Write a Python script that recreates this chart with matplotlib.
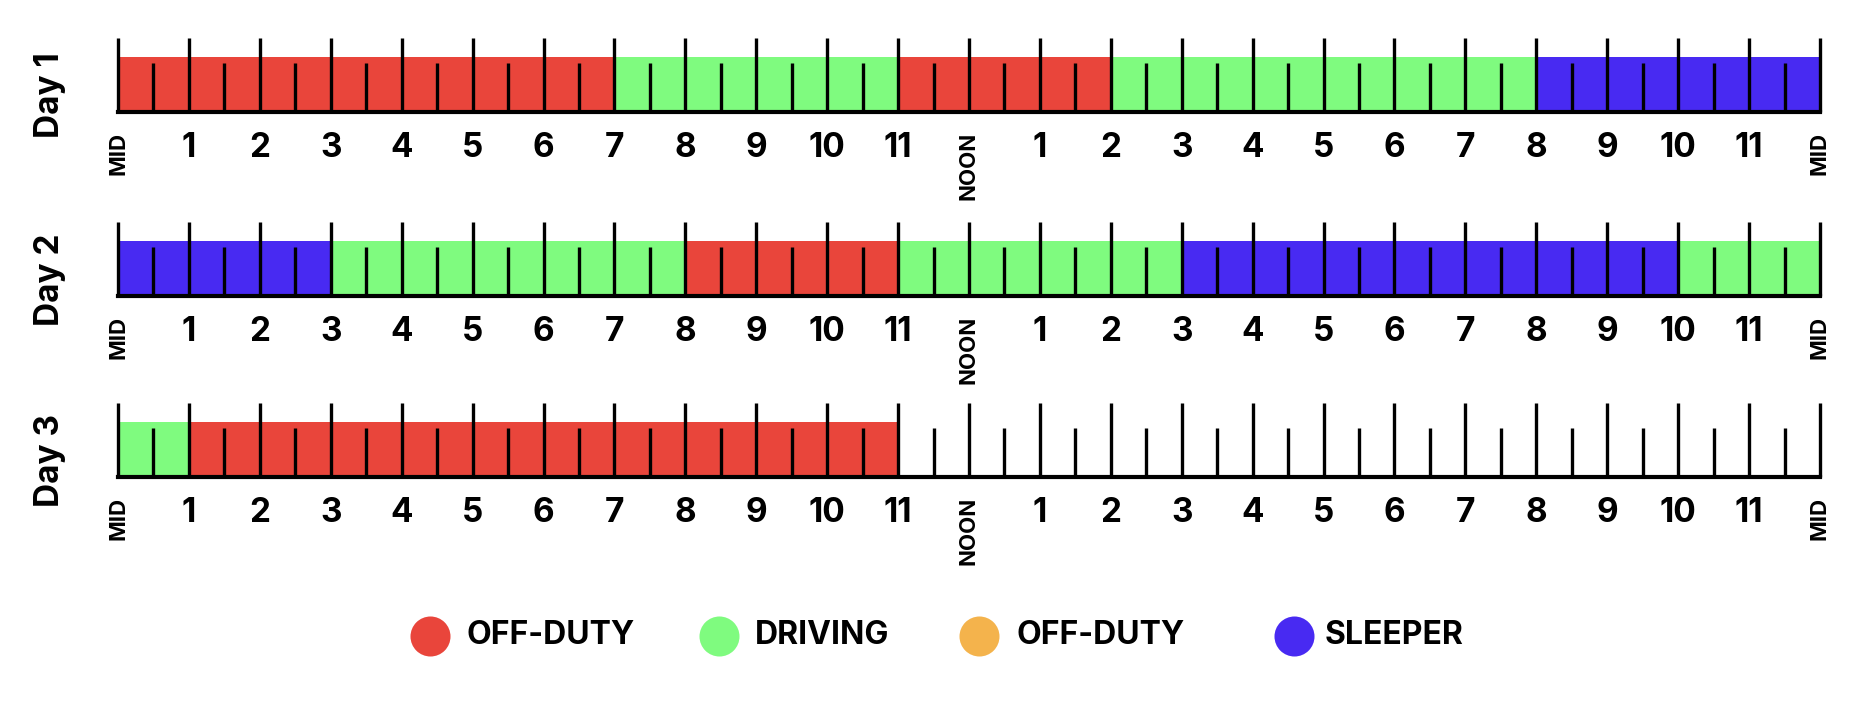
import matplotlib.pyplot as plt

# status segments per day: (start hour, end hour, status)
day1 = [(0, 7, "OFF"), (7, 11, "DRIVING"), (11, 14, "OFF"), (14, 20, "DRIVING"), (20, 24, "SLEEPER")]
day2 = [(0, 3, "SLEEPER"), (3, 8, "DRIVING"), (8, 11, "OFF"), (11, 15, "DRIVING"),
        (15, 22, "SLEEPER"), (22, 24, "DRIVING")]
day3 = [(0, 1, "DRIVING"), (1, 11, "OFF")]
days = [day1, day2, day3]
day_names = ["Day 1", "Day 2", "Day 3"]

hour_labels = ["MID", "1", "2", "3", "4", "5", "6", "7", "8", "9", "10", "11", "NOON",
               "1", "2", "3", "4", "5", "6", "7", "8", "9", "10", "11", "MID"]

status_colors = {"OFF": "#E9453B", "DRIVING": "#7FFB7F", "OFF2": "#F4B34C", "SLEEPER": "#482AF2"}
legend_labels = ["OFF-DUTY", "DRIVING", "OFF-DUTY", "SLEEPER"]
legend_keys = ["OFF", "DRIVING", "OFF2", "SLEEPER"]

FONT = ["Inter", "DejaVu Sans"]
plt.rcParams["font.family"] = FONT

W, H = 1872, 710
fig = plt.figure(figsize=(W / 100, H / 100), dpi=100)

# pixel layout
x0, x1 = 118, 1820
baselines = [112, 296, 477]
unit = 55  # px per bar height
ylo, yhi = -1.9, 1.45

for d, (segs, name, base) in enumerate(zip(days, day_names, baselines)):
    top_px = base - yhi * unit
    bot_px = base - ylo * unit
    ax = fig.add_axes([x0 / W, 1 - bot_px / H, (x1 - x0) / W, (bot_px - top_px) / H])
    ax.set_xlim(0, 24)
    ax.set_ylim(ylo, yhi)
    ax.axis("off")

    for start, end, st in segs:
        ax.bar(start, 1.0, width=end - start, bottom=0, align="edge",
               color=status_colors[st], linewidth=0)

    # hour and half-hour marks
    ax.vlines(range(25), 0, 1.35, color="black", lw=2.4, capstyle="butt", clip_on=False)
    ax.vlines([h + 0.5 for h in range(24)], 0, 0.9, color="black", lw=2.4,
              capstyle="butt", clip_on=False)
    ax.hlines(0, 0, 24, color="black", lw=3, capstyle="projecting", clip_on=False)

    for h, lab in enumerate(hour_labels):
        if lab in ("MID", "NOON"):
            ax.text(h, -0.36, lab, rotation=90, ha="center", va="top",
                    fontsize=16, fontweight="bold", clip_on=False)
        else:
            ax.text(h, -0.36, lab, ha="center", va="top",
                    fontsize=24, fontweight="bold", clip_on=False)

    ax.text(-0.96, 0.3, name, rotation=90, ha="center", va="center",
            fontsize=24, fontweight="bold", clip_on=False)

# legend drawn in pixel space
lax = fig.add_axes([0, 0, 1, 1])
lax.set_xlim(0, W)
lax.set_ylim(H, 0)
lax.axis("off")
dot_x = [430, 719, 979, 1294]
text_x = [467, 755, 1016, 1325]
leg_y = 636
for key, lab, dx, tx in zip(legend_keys, legend_labels, dot_x, text_x):
    lax.scatter([dx], [leg_y], s=830, color=status_colors[key], linewidths=0)
    lax.text(tx, leg_y, lab, ha="left", va="center", fontsize=23, fontweight="bold")

fig.savefig("out.png", dpi=100)
